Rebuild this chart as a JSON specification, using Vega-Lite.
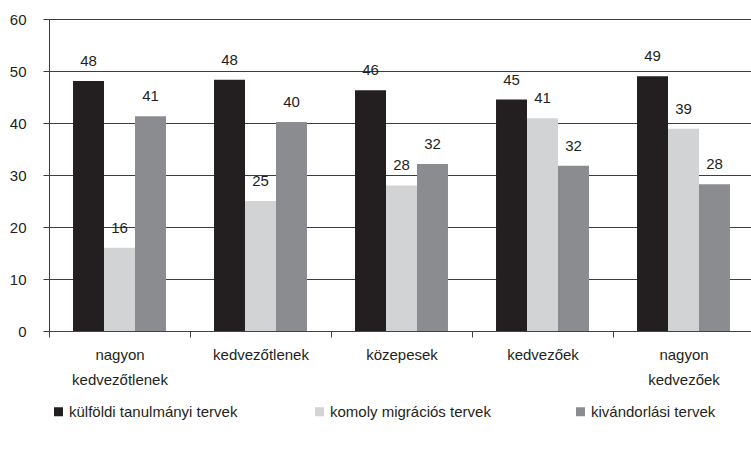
{
  "$schema": "https://vega.github.io/schema/vega-lite/v6.json",
  "width": 705,
  "height": 312,
  "autosize": "none",
  "padding": {"left": 49, "top": 19, "right": 0, "bottom": 120},
  "background": "white",
  "config": {
    "view": {"stroke": null},
    "font": "Liberation Sans",
    "text": {"font": "Liberation Sans"}
  },
  "data": {
    "values": [
      {"cat": "nagyon kedvezőtlenek", "series": "külföldi tanulmányi tervek", "value": 48.1, "label": "48"},
      {"cat": "nagyon kedvezőtlenek", "series": "komoly migrációs tervek", "value": 16.0, "label": "16"},
      {"cat": "nagyon kedvezőtlenek", "series": "kivándorlási tervek", "value": 41.3, "label": "41"},
      {"cat": "kedvezőtlenek", "series": "külföldi tanulmányi tervek", "value": 48.3, "label": "48"},
      {"cat": "kedvezőtlenek", "series": "komoly migrációs tervek", "value": 25.0, "label": "25"},
      {"cat": "kedvezőtlenek", "series": "kivándorlási tervek", "value": 40.2, "label": "40"},
      {"cat": "közepesek", "series": "külföldi tanulmányi tervek", "value": 46.3, "label": "46"},
      {"cat": "közepesek", "series": "komoly migrációs tervek", "value": 28.0, "label": "28"},
      {"cat": "közepesek", "series": "kivándorlási tervek", "value": 32.1, "label": "32"},
      {"cat": "kedvezőek", "series": "külföldi tanulmányi tervek", "value": 44.5, "label": "45"},
      {"cat": "kedvezőek", "series": "komoly migrációs tervek", "value": 40.9, "label": "41"},
      {"cat": "kedvezőek", "series": "kivándorlási tervek", "value": 31.8, "label": "32"},
      {"cat": "nagyon kedvezőek", "series": "külföldi tanulmányi tervek", "value": 49.0, "label": "49"},
      {"cat": "nagyon kedvezőek", "series": "komoly migrációs tervek", "value": 38.9, "label": "39"},
      {"cat": "nagyon kedvezőek", "series": "kivándorlási tervek", "value": 28.2, "label": "28"}
    ]
  },
  "encoding": {
    "x": {
      "field": "cat",
      "type": "nominal",
      "sort": ["nagyon kedvezőtlenek", "kedvezőtlenek", "közepesek", "kedvezőek", "nagyon kedvezőek"],
      "scale": {"paddingInner": 0, "paddingOuter": 0},
      "axis": {
        "title": null,
        "labelAngle": 0,
        "tickBand": "extent",
        "domainColor": "#444444",
        "tickColor": "#444444",
        "tickSize": 6,
        "labelFontSize": 15,
        "labelColor": "#231f20",
        "labelPadding": 10,
        "labelBaseline": "top",
        "labelLineHeight": 25,
        "labelExpr": "split(datum.label, ' ')",
        "grid": false
      }
    },
    "xOffset": {
      "field": "series",
      "type": "nominal",
      "sort": ["külföldi tanulmányi tervek", "komoly migrációs tervek", "kivándorlási tervek"],
      "scale": {"paddingInner": 0, "paddingOuter": 0.775}
    },
    "y": {
      "field": "value",
      "type": "quantitative",
      "scale": {"domain": [0, 60], "nice": false},
      "axis": {
        "title": null,
        "values": [0, 10, 20, 30, 40, 50, 60],
        "grid": true,
        "gridColor": "#3d3d3d",
        "gridWidth": 1,
        "domainColor": "#3d3d3d",
        "tickColor": "#3d3d3d",
        "tickSize": 6,
        "labelPadding": 17,
        "labelFontSize": 15,
        "labelColor": "#231f20"
      }
    }
  },
  "layer": [
    {
      "mark": {"type": "bar"},
      "encoding": {
        "color": {
          "field": "series",
          "type": "nominal",
          "scale": {
            "domain": ["külföldi tanulmányi tervek", "komoly migrációs tervek", "kivándorlási tervek"],
            "range": ["#231f20", "#d1d3d4", "#8b8c8f"]
          },
          "legend": {
            "title": null,
            "orient": "none",
            "legendX": 2,
            "legendY": 385,
            "direction": "horizontal",
            "columns": 3,
            "gridAlign": "all",
            "columnPadding": 74,
            "symbolType": "square",
            "symbolSize": 81,
            "symbolStrokeWidth": 0,
            "labelFontSize": 15,
            "labelColor": "#231f20",
            "labelOffset": 3,
            "labelLimit": 300
          }
        }
      }
    },
    {
      "mark": {"type": "text", "baseline": "bottom", "dy": -12, "fontSize": 15, "color": "#231f20"},
      "encoding": {
        "text": {"field": "label", "type": "nominal"}
      }
    }
  ]
}
